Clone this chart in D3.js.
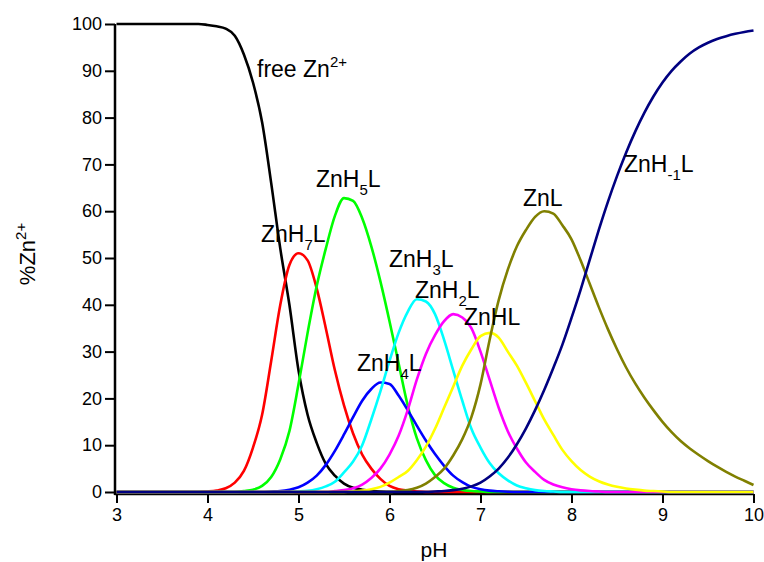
<!DOCTYPE html>
<html>
<head>
<meta charset="utf-8">
<script src="https://cdn.jsdelivr.net/npm/d3@7"></script>
<style>
  body { margin: 0; background: #fff; }
  svg { display: block; font-family: Arial, "Liberation Sans", sans-serif; }
</style>
</head>
<body>
<script>
// ---- data ----
var pH = [3.0,3.1,3.2,3.3,3.4,3.5,3.6,3.7,3.8,3.9,
          4.0,4.1,4.2,4.3,4.4,4.5,4.6,4.7,4.8,4.9,
          5.0,5.1,5.2,5.3,5.4,5.5,5.6,5.7,5.8,5.9,
          6.0,6.1,6.2,6.3,6.4,6.5,6.6,6.7,6.8,6.9,
          7.0,7.1,7.2,7.3,7.4,7.5,7.6,7.7,7.8,7.9,
          8.0,8.1,8.2,8.3,8.4,8.5,8.6,8.7,8.8,8.9,
          9.0,9.1,9.2,9.3,9.4,9.5,9.6,9.7,9.8,9.9,
          10.0];

var freeZn = [100,100,100,100,100,100,100,100,100,100,
              99.8,99.5,99,97.5,93.5,87.5,79,66,52,40,
              26,16.5,10.5,6,3.5,1.8,0.9,0.5,0.25,0.1,
              0.05,0,0,0,0,0,0,0,0,0,
              0,0,0,0,0,0,0,0,0,0,
              0,0,0,0,0,0,0,0,0,0,
              0,0,0,0,0,0,0,0,0,0,
              0];
var znH7L = [0,0,0,0,0,0,0,0,0,0,
             0.1,0.3,0.8,2,4.5,9.5,16.5,28,40,48.5,
             51,49.5,43.5,35,26,18.5,12.5,8,5,2.8,
             1.3,0.6,0.3,0.1,0,0,0,0,0,0,
             0,0,0,0,0,0,0,0,0,0,
             0,0,0,0,0,0,0,0,0,0,
             0,0,0,0,0,0,0,0,0,0,
             0];
var znH5L = [0,0,0,0,0,0,0,0,0,0,
             0,0,0,0,0.2,0.5,1.3,3.2,7,13,
             23,34,44,52,59,62.8,62.2,58.5,52.5,45,
             36.5,27.5,18.5,11.5,6.8,3.6,1.9,0.9,0.45,0.2,
             0.1,0,0,0,0,0,0,0,0,0,
             0,0,0,0,0,0,0,0,0,0,
             0,0,0,0,0,0,0,0,0,0,
             0];
var znH4L = [0,0,0,0,0,0,0,0,0,0,
             0,0,0,0,0,0,0,0.1,0.2,0.5,
             1,2,3.5,5.8,8.8,12.3,16,19.5,22,23.4,
             23.1,20.6,17.5,14.2,11,8.1,5.6,3.5,2.1,1.1,
             0.6,0.3,0.15,0.05,0,0,0,0,0,0,
             0,0,0,0,0,0,0,0,0,0,
             0,0,0,0,0,0,0,0,0,0,
             0];
var znH3L = [0,0,0,0,0,0,0,0,0,0,
             0,0,0,0,0,0,0,0,0,0,
             0.1,0.25,0.6,1.2,2.2,4.2,6.5,10,15.5,21.5,
             28,34,38.5,41.2,40.7,38,32.5,26,19.5,13.5,
             9.5,6.2,4,2.5,1.4,0.8,0.4,0.2,0.1,0,
             0,0,0,0,0,0,0,0,0,0,
             0,0,0,0,0,0,0,0,0,0,
             0];
var znH2L = [0,0,0,0,0,0,0,0,0,0,
             0,0,0,0,0,0,0,0,0,0,
             0,0,0,0,0.2,0.4,0.8,1.6,3,5,
             8,12,17.5,24,29.5,33.5,36.5,38,37.3,35,
             30,24,18,13,9.3,6.3,4.3,2.6,1.6,1,
             0.6,0.35,0.2,0.1,0,0,0,0,0,0,
             0,0,0,0,0,0,0,0,0,0,
             0];
var znHL = [0,0,0,0,0,0,0,0,0,0,
            0,0,0,0,0,0,0,0,0,0,
            0,0,0,0,0,0,0.1,0.3,0.6,1.1,
            2,3.2,4.5,6.8,9.7,13.5,18,22.5,27,30.5,
            33.3,34,33,30,27,23.3,19.4,15.5,12.2,9,
            6.6,4.7,3.3,2.3,1.6,1.1,0.75,0.5,0.3,0.2,
            0.1,0,0,0,0,0,0,0,0,0,
            0];
var znL = [0,0,0,0,0,0,0,0,0,0,
           0,0,0,0,0,0,0,0,0,0,
           0,0,0,0,0,0,0,0,0,0,
           0,0.2,0.4,0.9,1.8,3.2,5,7.8,11.3,16,
           23,32.5,41,47.5,52.5,56,58.8,60,59.5,57,
           54,49.5,44.5,39.5,34.8,30.5,26.6,23.2,20.2,17.5,
           15,12.8,10.9,9.3,7.9,6.6,5.4,4.3,3.3,2.4,
           1.5];
var znHm1L = [0,0,0,0,0,0,0,0,0,0,
              0,0,0,0,0,0,0,0,0,0,
              0,0,0,0,0,0,0,0,0,0,
              0,0,0,0,0,0.1,0.2,0.4,0.7,1.2,
              2,3.3,5,7.3,10.2,13.6,17.5,21.8,26.5,31.5,
              37.2,43.2,49.6,56,62,67.5,72.5,77,81,84.5,
              87.5,90,92,93.7,95,96,96.8,97.4,97.9,98.3,
              98.6];

var xTicks = [3, 4, 5, 6, 7, 8, 9, 10];
var yTicks = [0, 10, 20, 30, 40, 50, 60, 70, 80, 90, 100];

// ---- setup ----
var width = 764, height = 562;
var svg = d3.select("body").append("svg")
  .attr("width", width)
  .attr("height", height);

var x = d3.scaleLinear().domain([3, 10]).range([116.5, 753.5]);
var y = d3.scaleLinear().domain([0, 100]).range([492, 24]);

// axes (drawn first so the curves sit on top of the baseline)
var xMinor = d3.range(3.5, 10, 1);
var yMinor = d3.range(5, 100, 10);

var gx = svg.append("g").attr("transform", "translate(0,494)");
gx.call(d3.axisBottom(x).tickValues(xMinor).tickSize(6).tickFormat(""));
gx.call(d3.axisBottom(x).tickValues(xTicks).tickSize(9).tickPadding(5).tickFormat(d3.format("d")));

var gy = svg.append("g").attr("transform", "translate(115,0)");
gy.call(d3.axisLeft(y).tickValues(yMinor).tickSize(6).tickFormat(""));
gy.call(d3.axisLeft(y).tickValues(yTicks).tickSize(10).tickPadding(3).tickFormat(d3.format("d")));

svg.selectAll(".domain").attr("stroke-width", 2.5);
svg.selectAll(".tick line").attr("stroke-width", 2);
svg.selectAll(".tick text").attr("font-size", 18).attr("fill", "#000")
  .attr("font-family", "Arial, 'Liberation Sans', sans-serif");
gx.selectAll(".domain").attr("d", "M" + (x(3) - 2) + ",0H" + x(10));
gy.selectAll(".domain").attr("d", "M0," + y(100) + "V" + (y(0) + 3));

// curves
var series = [
  { vals: freeZn, color: "#000000" },
  { vals: znH7L,  color: "#ff0000" },
  { vals: znH5L,  color: "#00ff00" },
  { vals: znH4L,  color: "#0000ff" },
  { vals: znH3L,  color: "#00ffff" },
  { vals: znH2L,  color: "#ff00ff" },
  { vals: znHL,   color: "#ffff00" },
  { vals: znL,    color: "#808000" },
  { vals: znHm1L, color: "#000080" }
];

var line = d3.line()
  .x(function(d, i) { return x(pH[i]); })
  .y(function(d) { return y(d); })
  .curve(d3.curveMonotoneX);

svg.selectAll("path.curve")
  .data(series)
  .enter().append("path")
  .attr("class", "curve")
  .attr("d", function(s) { return line(s.vals); })
  .attr("fill", "none")
  .attr("stroke", function(s) { return s.color; })
  .attr("stroke-width", 2.6)
  .attr("stroke-linejoin", "round");

// species labels: [main, script, tail, isSuper, x, baseline]
var labels = [
  ["free Zn", "2+", "", true, 257, 77],
  ["ZnH", "7", "L", false, 261, 242],
  ["ZnH", "5", "L", false, 316, 187],
  ["ZnH", "3", "L", false, 389, 267],
  ["ZnH", "2", "L", false, 415, 298],
  ["ZnHL", "", "", false, 464, 325],
  ["ZnH", "4", "L", false, 357, 371],
  ["ZnL", "", "", false, 523, 206],
  ["ZnH", "-1", "L", false, 624, 172]
];

labels.forEach(function(l) {
  var t = svg.append("text")
    .attr("x", l[4]).attr("y", l[5])
    .attr("font-size", 23).attr("fill", "#000");
  t.append("tspan").text(l[0]);
  if (l[1]) {
    var shift = l[3] ? -10 : 8;
    t.append("tspan").attr("font-size", 15).attr("dy", shift).text(l[1]);
    if (l[2]) t.append("tspan").attr("dy", -shift).text(l[2]);
  }
});

// axis titles
svg.append("text")
  .attr("x", 434).attr("y", 557)
  .attr("text-anchor", "middle")
  .attr("font-size", 21)
  .text("pH");

var yt = svg.append("text")
  .attr("transform", "translate(35,254) rotate(-90)")
  .attr("text-anchor", "middle")
  .attr("font-size", 22);
yt.append("tspan").text("%Zn");
yt.append("tspan").attr("font-size", 15).attr("dy", -9).text("2+");
</script>
</body>
</html>
